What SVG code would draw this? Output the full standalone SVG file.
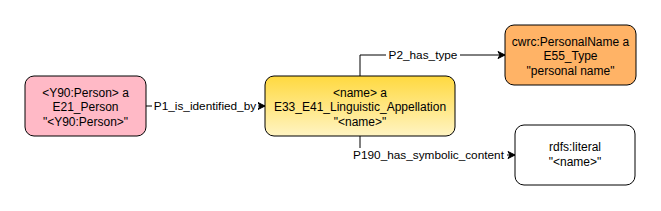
<svg xmlns="http://www.w3.org/2000/svg" width="661" height="211" viewBox="0 0 661 211">
<defs>
<linearGradient id="yg" x1="0" y1="0" x2="0" y2="1">
<stop offset="0" stop-color="#FFD93F"/>
<stop offset="1" stop-color="#FFF4C3"/>
</linearGradient>
<marker id="arr" markerWidth="10" markerHeight="10" refX="8" refY="5" orient="auto" markerUnits="userSpaceOnUse">
<path d="M1,1.5 L8,5 L1,8.5 L3,5 Z" fill="#000" stroke="#000" stroke-width="1"/>
</marker>
<style>
.box{stroke:#000;stroke-width:1}
.t{font-family:"Liberation Sans",Arial,sans-serif;font-size:12px;fill:#000;text-anchor:middle}
.l{font-family:"Liberation Sans",Arial,sans-serif;font-size:11.8px;fill:#000;text-anchor:middle}
.e{fill:none;stroke:#000;stroke-width:1}
.lb{fill:#fff}
</style>
</defs>
<rect width="661" height="211" fill="#fff"/>
<g id="connectors">
<path class="e" d="M146,106 L265,106" marker-end="url(#arr)"/>
<rect class="lb" x="152" y="99" width="106" height="14"/>
<text class="l" x="205" y="110">P1_is_identified_by</text>
<path class="e" d="M360,76 L360,55 L505,55" marker-end="url(#arr)"/>
<rect class="lb" x="386" y="48" width="74" height="14"/>
<text class="l" x="423" y="59">P2_has_type</text>
<path class="e" d="M360,136 L360,155 L515,155" marker-end="url(#arr)"/>
<rect class="lb" x="351" y="148" width="156" height="14"/>
<text class="l" x="428.5" y="159">P190_has_symbolic_content</text>
</g>
<g id="person">
<rect class="box" x="25" y="76" width="121" height="60" rx="9" fill="#FFB9C6"/>
<text class="t" x="85.5" y="97">&lt;Y90:Person&gt; a</text>
<text class="t" x="85.5" y="111">E21_Person</text>
<text class="t" x="85.5" y="126">"&lt;Y90:Person&gt;"</text>
</g>
<g id="name">
<rect class="box" x="265" y="76" width="190" height="60" rx="9" fill="url(#yg)"/>
<text class="t" x="360" y="97">&lt;name&gt; a</text>
<text class="t" x="360" y="111">E33_E41_Linguistic_Appellation</text>
<text class="t" x="360" y="126">"&lt;name&gt;"</text>
</g>
<g id="type">
<rect class="box" x="505" y="25" width="131" height="60" rx="9" fill="#FFB366"/>
<text class="t" x="570.5" y="46">cwrc:PersonalName a</text>
<text class="t" x="570.5" y="60">E55_Type</text>
<text class="t" x="570.5" y="75">"personal name"</text>
</g>
<g id="literal">
<rect class="box" x="515" y="125" width="120" height="60" rx="9" fill="#fff"/>
<text class="t" x="575" y="151">rdfs:literal</text>
<text class="t" x="575" y="166">"&lt;name&gt;"</text>
</g>
</svg>
